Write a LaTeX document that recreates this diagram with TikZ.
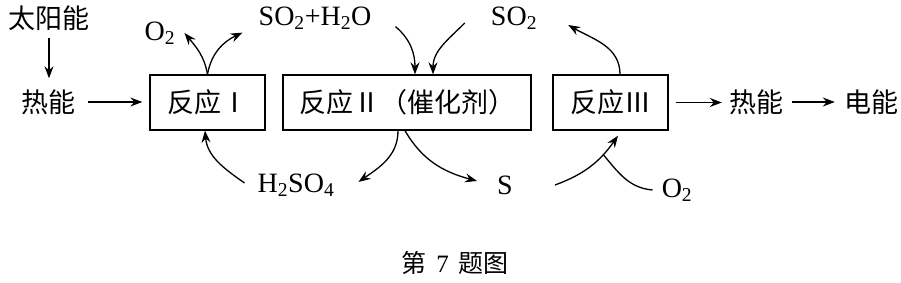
\documentclass[tikz,border=0pt]{standalone}
\usepackage{fontspec}
\setmainfont{Liberation Serif}
\newfontfamily\zh{Noto Sans CJK SC}
\usetikzlibrary{positioning,arrows.meta}
\tikzset{
  wenzi/.style   = {inner sep=1pt, font=\fontsize{28}{30}\selectfont},
  zhwenzi/.style = {inner sep=1pt, font=\zh\fontsize{27}{30}\selectfont},
  kuang/.style   = {draw, line width=1.3pt, minimum height=55pt, inner sep=0pt,
                    font=\zh\fontsize{27}{30}\selectfont},
  jiantou/.style = {-{Stealth[length=12pt,width=9pt,inset=4pt]}, line width=1.3pt},
  xian/.style    = {line width=1.3pt}
}
\begin{document}
\begin{tikzpicture}[x=1pt,y=1pt]
        \useasboundingbox (0,0) rectangle (901,-283);

        \node[kuang, minimum width=115pt] (r1) at (207.5,-102.5) {反应Ⅰ};
        \node[kuang, minimum width=248pt] (r2) at (407,-102.5) {反应Ⅱ（催化剂）};
        \node[kuang, minimum width=115pt] (r3) at (610.5,-102.5) {反应Ⅲ};

        \node[zhwenzi] (ty)  at (49,-18)  {太阳能};
        \node[zhwenzi] (rn1) at (48,-102) {热能};
        \node[zhwenzi] (rn2) at (756,-102) {热能};
        \node[zhwenzi] (dn)  at (871,-102) {电能};

        \node[wenzi] (o2a) at (160,-33)  {O\textsubscript{2}};
        \node[wenzi] (sh)  at (315,-18)  {SO\textsubscript{2}+H\textsubscript{2}O};
        \node[wenzi] (so2) at (514,-18)  {SO\textsubscript{2}};
        \node[wenzi] (hs)  at (296,-185) {H\textsubscript{2}SO\textsubscript{4}};
        \node[wenzi] (s)   at (505,-185) {S};
        \node[wenzi] (o2b) at (677,-190) {O\textsubscript{2}};

        \node[wenzi, font=\fontsize{25}{28}\selectfont] (tu) at (455,-263)
             {{\zh 第}\hspace{0.4em}7\hspace{0.4em}{\zh 题图}};

        % energy chain
        \draw[jiantou, shorten <=6pt, shorten >=10pt] (ty.south) -- (ty.south |- rn1.north);
        \draw[jiantou, shorten <=12pt, shorten >=7pt] (rn1.east) -- (rn1.east -| r1.west);
        \draw[jiantou, shorten <=7pt, shorten >=6pt] (r3.east) -- (r3.east -| rn2.west);
        \draw[jiantou, shorten <=8pt, shorten >=8pt] (rn2.east) -- (rn2.east -| dn.west);

        % reaction I
        \draw[jiantou] (r1.north) to[out=100,in=-50] ([xshift=8pt]o2a.east);
        \draw[jiantou] (r1.north) to[out=80,in=205] ([xshift=-15pt,yshift=-2pt]sh.south west);
        \draw[jiantou] ([xshift=-12pt,yshift=2pt]hs.west) to[out=145,in=-85] ([xshift=-2.5pt]r1.south);

        % reaction II
        \draw[jiantou] ([xshift=23pt,yshift=4pt]sh.south east) to[out=-40,in=90] ([xshift=8pt]r2.north);
        \draw[jiantou] ([xshift=-25pt,yshift=-5pt]so2.west) to[out=225,in=90] ([xshift=26pt]r2.north);
        \draw[jiantou] ([xshift=-9pt]r2.south) to[out=-90,in=35] ([xshift=23pt,yshift=3pt]hs.east);
        \draw[jiantou] ([xshift=-2pt]r2.south) to[out=-60,in=165] ([xshift=-19pt,yshift=4pt]s.west);

        % reaction III
        \draw[jiantou] ([xshift=9.5pt]r3.north) to[out=90,in=-30] ([xshift=30pt,yshift=-7pt]so2.east);
        \draw[jiantou] ([xshift=41pt]s.east) to[out=20,in=235] coordinate[pos=0.72] (hui)
             ([xshift=7.5pt,yshift=-5pt]r3.south);
        \draw[xian] ([xshift=-8pt]o2b.west) to[out=175,in=-50] (hui);
    \end{tikzpicture}
\end{document}
